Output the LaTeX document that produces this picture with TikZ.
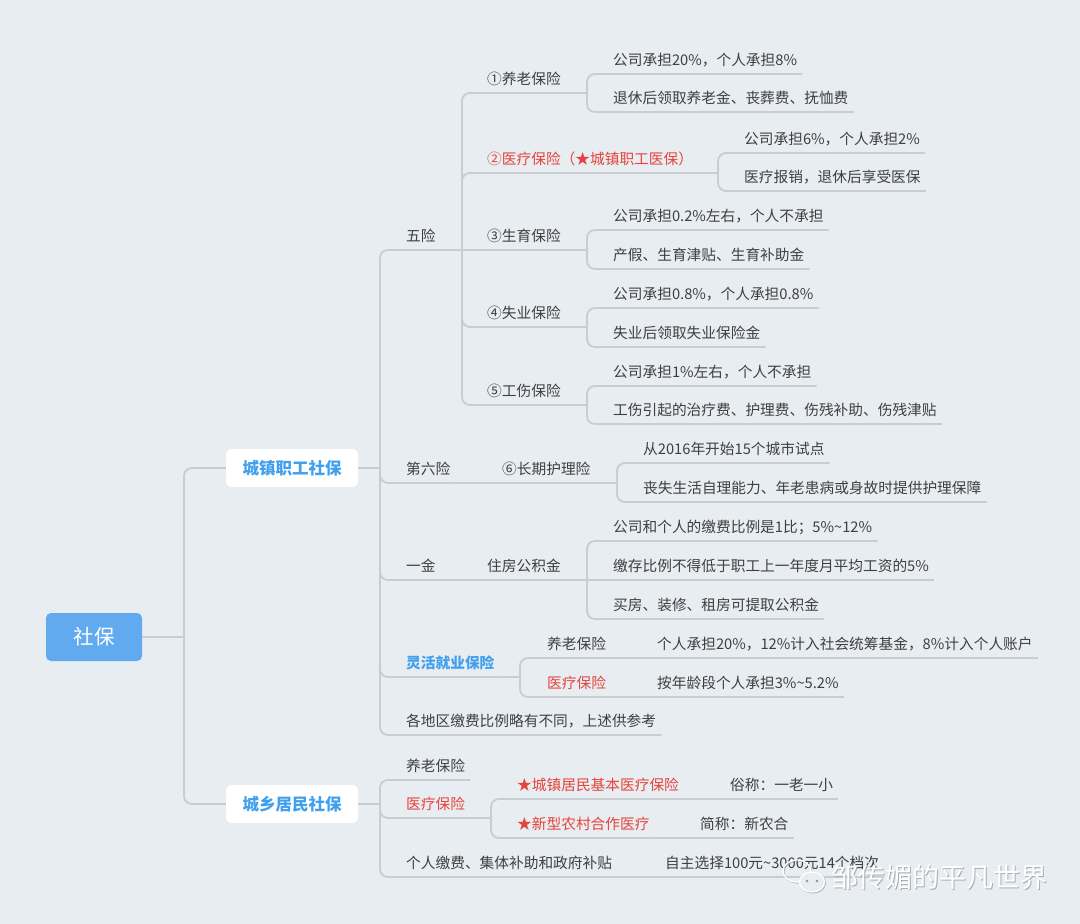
\documentclass[tikz,border=0pt]{standalone}
\usepackage{fontspec}
\setmainfont{Noto Sans CJK SC}
\usetikzlibrary{calc}
\definecolor{bg}{HTML}{E8EDF2}
\definecolor{ln}{HTML}{C9CCD1}
\definecolor{txt}{HTML}{3F3F3F}
\definecolor{rdt}{HTML}{E5433B}
\definecolor{blt}{HTML}{40A0EE}
\definecolor{rootc}{HTML}{62AAF0}
\definecolor{shad}{HTML}{8F9398}
\begin{document}
\begin{tikzpicture}[x=1pt,y=-1pt,
  topic/.style={anchor=south west, inner xsep=5pt, inner ysep=6pt, text height=11pt, text depth=2.5pt, font=\fontsize{14.7}{17}\selectfont, text=txt},
  redtopic/.style={topic, text=rdt},
  bluetopic/.style={topic, text=blt, font=\fontsize{14.7}{17}\selectfont\bfseries},
  rootbox/.style={fill=rootc, rounded corners=5pt, minimum width=96pt, minimum height=48pt, inner sep=0pt, text=white, font=\fontsize{20.5}{22}\selectfont},
  mainbox/.style={fill=white, rounded corners=5pt, minimum width=132pt, minimum height=38pt, inner sep=0pt, text=blt, font=\fontsize{16.5}{18}\selectfont\bfseries},
  conn/.style={draw=ln, line width=1.8pt, rounded corners=8pt},
  wm/.style={font=\fontsize{27}{30}\selectfont, anchor=west, inner sep=0pt}
]
\fill[bg] (0,0) rectangle (1080,924);
\useasboundingbox (0,0) rectangle (1080,924);

% ---- main boxes
\node[rootbox] (root) at (94,637) {社保};
\node[mainbox] (b1) at (292,468) {城镇职工社保};
\node[mainbox] (b2) at (292,804) {城乡居民社保};

% ---- junctions
\coordinate (J0) at (184,637);
\coordinate (J1) at (380,468);
\coordinate (J2) at (380,804);
\coordinate (Ja1) at (462,250);
\coordinate (Jy1) at (587,93);
\coordinate (Jy2) at (718,173);
\coordinate (Jy3) at (587,250);
\coordinate (Jy4) at (587,327);
\coordinate (Jy5) at (587,405);
\coordinate (Ja2) at (477,483);
\coordinate (Jl6) at (617,483);
\coordinate (Ja3) at (462,580);
\coordinate (Jzf) at (587,580);
\coordinate (Ja4) at (520,677);
\coordinate (Jlyl) at (631,658);
\coordinate (Jlyb) at (631,697);
\coordinate (Jc2) at (491,818);
\coordinate (Jcz) at (704,799);
\coordinate (Jxn) at (674,838);
\coordinate (Jc3) at (639,877);

% ---- level 2 (城镇职工社保)
\node[topic] (a1) at (401,250) {五险};
\node[topic] (a2) at (401,483) {第六险};
\node[topic] (a3) at (401,580) {一金};
\node[bluetopic] (a4) at (401,677) {灵活就业保险};
\node[topic] (a5) at (401,735) {各地区缴费比例略有不同，上述供参考};

% 五险 children
\node[topic] (y1) at (482,93) {①养老保险};
\node[redtopic] (y2) at (482,173) {②医疗保险（★城镇职工医保）};
\node[topic] (y3) at (482,250) {③生育保险};
\node[topic] (y4) at (482,327) {④失业保险};
\node[topic] (y5) at (482,405) {⑤工伤保险};

\node[topic] (y1a) at (608,74) {公司承担20\%，个人承担8\%};
\node[topic] (y1b) at (608,112) {退休后领取养老金、丧葬费、抚恤费};
\node[topic] (y2a) at (739,153) {公司承担6\%，个人承担2\%};
\node[topic] (y2b) at (739,191) {医疗报销，退休后享受医保};
\node[topic] (y3a) at (608,230) {公司承担0.2\%左右，个人不承担};
\node[topic] (y3b) at (608,269) {产假、生育津贴、生育补助金};
\node[topic] (y4a) at (608,308) {公司承担0.8\%，个人承担0.8\%};
\node[topic] (y4b) at (608,347) {失业后领取失业保险金};
\node[topic] (y5a) at (608,386) {公司承担1\%左右，个人不承担};
\node[topic] (y5b) at (608,424) {工伤引起的治疗费、护理费、伤残补助、伤残津贴};

% 第六险
\node[topic] (l6) at (497,483) {⑥长期护理险};
\node[topic] (l6a) at (638,463) {从2016年开始15个城市试点};
\node[topic] (l6b) at (638,502) {丧失生活自理能力、年老患病或身故时提供护理保障};

% 一金
\node[topic] (zf) at (482,580) {住房公积金};
\node[topic] (zfa) at (608,541) {公司和个人的缴费比例是1比；5\%\textasciitilde 12\%};
\node[topic] (zfb) at (608,580) {缴存比例不得低于职工上一年度月平均工资的5\%};
\node[topic] (zfc) at (608,619) {买房、装修、租房可提取公积金};

% 灵活就业保险
\node[topic] (lyl) at (542,658) {养老保险};
\node[redtopic] (lyb) at (542,697) {医疗保险};
\node[topic] (lyla) at (652,658) {个人承担20\%，12\%计入社会统筹基金，8\%计入个人账户};
\node[topic] (lyba) at (652,697) {按年龄段个人承担3\%\textasciitilde 5.2\%};

% ---- level 2 (城乡居民社保)
\node[topic] (c1) at (401,780) {养老保险};
\node[redtopic] (c2) at (401,818) {医疗保险};
\node[topic] (c3) at (401,877) {个人缴费、集体补助和政府补贴};
\node[redtopic] (cz) at (512,799) {★城镇居民基本医疗保险};
\node[redtopic] (xn) at (512,838) {★新型农村合作医疗};
\node[topic] (cza) at (725,799) {俗称：一老一小};
\node[topic] (xna) at (695,838) {简称：新农合};
\node[topic] (c3a) at (660,877) {自主选择100元\textasciitilde 3000元14个档次};

% ---- connectors
\draw[conn] (root.east) -- (J0);
\draw[conn] (J0) |- (b1.west);
\draw[conn] (J0) |- (b2.west);
\draw[conn] (b1.east) -- (J1);
\draw[conn] (b2.east) -- (J2);

\foreach \c in {a1,a2,a3,a4,a5} \draw[conn] (J1) |- (\c.south east);
\foreach \c in {c1,c2,c3} \draw[conn] (J2) |- (\c.south east);

\draw[conn] (a1.south east) -- (Ja1);
\foreach \c in {y1,y2,y4,y5} \draw[conn] (Ja1) |- (\c.south east);
\draw[conn] (Ja1) -- (y3.south east);

\draw[conn] (y1.south east) -- (Jy1);
\foreach \c in {y1a,y1b} \draw[conn] (Jy1) |- (\c.south east);
\draw[conn] (y2.south east) -- (Jy2);
\foreach \c in {y2a,y2b} \draw[conn] (Jy2) |- (\c.south east);
\draw[conn] (y3.south east) -- (Jy3);
\foreach \c in {y3a,y3b} \draw[conn] (Jy3) |- (\c.south east);
\draw[conn] (y4.south east) -- (Jy4);
\foreach \c in {y4a,y4b} \draw[conn] (Jy4) |- (\c.south east);
\draw[conn] (y5.south east) -- (Jy5);
\foreach \c in {y5a,y5b} \draw[conn] (Jy5) |- (\c.south east);

\draw[conn] (a2.south east) -- (Ja2) -- (l6.south east);
\draw[conn] (l6.south east) -- (Jl6);
\foreach \c in {l6a,l6b} \draw[conn] (Jl6) |- (\c.south east);

\draw[conn] (a3.south east) -- (Ja3) -- (zf.south east);
\draw[conn] (zf.south east) -- (Jzf);
\foreach \c in {zfa,zfc} \draw[conn] (Jzf) |- (\c.south east);
\draw[conn] (Jzf) -- (zfb.south east);

\draw[conn] (a4.south east) -- (Ja4);
\foreach \c in {lyl,lyb} \draw[conn] (Ja4) |- (\c.south east);
\draw[conn] (lyl.south east) -- (Jlyl) -- (lyla.south east);
\draw[conn] (lyb.south east) -- (Jlyb) -- (lyba.south east);

\draw[conn] (c2.south east) -- (Jc2);
\foreach \c in {cz,xn} \draw[conn] (Jc2) |- (\c.south east);
\draw[conn] (cz.south east) -- (Jcz) -- (cza.south east);
\draw[conn] (xn.south east) -- (Jxn) -- (xna.south east);
\draw[conn] (c3.south east) -- (Jc3) -- (c3a.south east);

% ---- watermark
\begin{scope}[shift={(0.9,0.9)}, draw=shad, line width=1.3pt, opacity=0.6]
  \draw (797,871) ellipse (14 and 11);
  \draw (812,882) ellipse (12.5 and 10);
\end{scope}
\draw[white, line width=1.3pt] (797,871) ellipse (14 and 11);
\draw[white, line width=1.3pt, fill=bg] (812,882) ellipse (12.5 and 10);
\fill[shad] (807,881) circle (1.3) (817,881) circle (1.3);
\node[wm, text=shad, opacity=0.7] (wms) at (831.8,877.8) {邹传媚的平凡世界};
\node[wm, text=white] (wmt) at (830.8,876.8) {邹传媚的平凡世界};
\end{tikzpicture}
\end{document}
